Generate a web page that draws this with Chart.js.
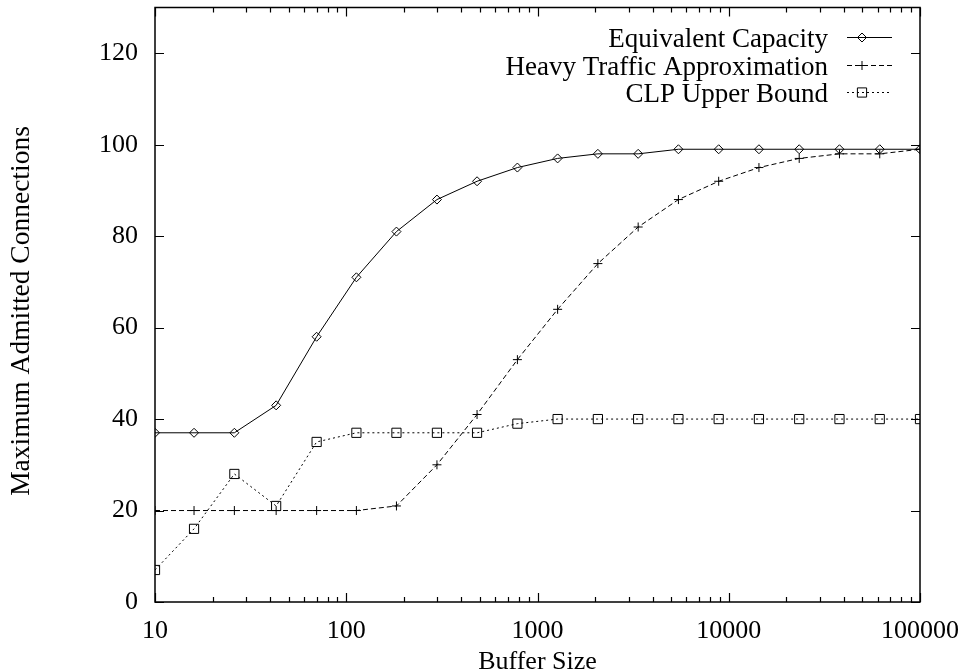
<!DOCTYPE html>
<html>
<head>
<meta charset="utf-8">
<script src="https://cdn.jsdelivr.net/npm/chart.js@4"></script>
<style>
  html, body { margin: 0; padding: 0; background: #fff; }
  #wrap { width: 963px; height: 672px; }
</style>
</head>
<body>
<div id="wrap"><canvas id="grafico" width="963" height="672"></canvas></div>
<script>
// Datos
const tamaniosBuffer = [10, 16, 26, 43, 70, 113, 183, 298, 483, 785, 1274, 2069, 3360, 5456, 8859, 14384, 23357, 37927, 61585, 100000];
const capacidadEquivalente = [37, 37, 37, 43, 58, 71, 81, 88, 92, 95, 97, 98, 98, 99, 99, 99, 99, 99, 99, 99];
const traficoPesado = [20, 20, 20, 20, 20, 20, 21, 30, 41, 53, 64, 74, 82, 88, 92, 95, 97, 98, 98, 99];
const cotaCLP = [7, 16, 28, 21, 35, 37, 37, 37, 37, 39, 40, 40, 40, 40, 40, 40, 40, 40, 40, 40];
const nombresSeries = ['Equivalent Capacity', 'Heavy Traffic Approximation', 'CLP Upper Bound'];
const ticksY = [0, 20, 40, 60, 80, 100, 120];
const ticksX = [10, 100, 1000, 10000, 100000];
const tituloX = 'Buffer Size';
const tituloY = 'Maximum Admitted Connections';

const FUENTE = '"Liberation Serif", "Times New Roman", serif';

const puntos = (ys) => tamaniosBuffer.map((x, i) => ({ x: x, y: ys[i] }));

// Marco, marcas hacia adentro, títulos y leyenda al estilo gnuplot
const marcoGnuplot = {
    id: 'marcoGnuplot',
    afterDraw(chart) {
        const { ctx, chartArea: a, scales } = chart;
        const sx = scales.x, sy = scales.y;
        ctx.save();
        ctx.strokeStyle = '#000';
        ctx.lineWidth = 1.5;
        ctx.strokeRect(a.left, a.top, a.right - a.left, a.bottom - a.top);

        ctx.lineWidth = 1.2;
        ctx.beginPath();
        ticksY.forEach(v => {
            const y = Math.round(sy.getPixelForValue(v)) + 0.5;
            ctx.moveTo(a.left, y); ctx.lineTo(a.left + 9, y);
            ctx.moveTo(a.right, y); ctx.lineTo(a.right - 9, y);
        });
        for (let d = 10; d < 100000; d *= 10) {
            for (let k = 1; k <= 10; k++) {
                const largo = (k === 1 || k === 10) ? 9 : 5;
                const x = Math.round(sx.getPixelForValue(d * k)) + 0.5;
                ctx.moveTo(x, a.bottom); ctx.lineTo(x, a.bottom - largo);
                ctx.moveTo(x, a.top); ctx.lineTo(x, a.top + largo);
            }
        }
        ctx.stroke();

        // Títulos de los ejes
        ctx.fillStyle = '#000';
        ctx.font = '26px ' + FUENTE;
        ctx.textAlign = 'center';
        ctx.textBaseline = 'alphabetic';
        ctx.fillText(tituloX, (a.left + a.right) / 2, 669);
        ctx.save();
        ctx.translate(29, 311);
        ctx.rotate(-Math.PI / 2);
        ctx.font = '27.5px ' + FUENTE;
        ctx.fillText(tituloY, 0, 0);
        ctx.restore();

        // Leyenda
        const xTexto = 828, xLinea0 = 847, xLinea1 = 892, xMarca = 862, yBase0 = 47, paso = 27.5;
        ctx.font = '27px ' + FUENTE;
        ctx.textAlign = 'right';
        chart.data.datasets.forEach((ds, i) => {
            const yBase = yBase0 + i * paso;
            const yLinea = Math.round(yBase - 10) + 0.5;
            ctx.fillStyle = '#000';
            ctx.fillText(ds.label, xTexto, yBase);
            ctx.save();
            ctx.strokeStyle = '#000';
            ctx.lineWidth = ds.borderWidth;
            ctx.setLineDash(ds.borderDash || []);
            ctx.beginPath();
            ctx.moveTo(xLinea0, yLinea); ctx.lineTo(xLinea1, yLinea);
            ctx.stroke();
            ctx.setLineDash([]);
            ctx.fillStyle = 'rgba(0,0,0,0)';
            Chart.helpers.drawPoint(ctx, {
                pointStyle: ds.pointStyle,
                radius: ds.pointRadius,
                borderWidth: 1
            }, xMarca, yLinea);
            ctx.restore();
        });
        ctx.restore();
    }
};

const serie = (label, datos, estilo, radio, guiones) => ({
    label: label,
    data: puntos(datos),
    borderColor: '#000',
    backgroundColor: 'rgba(0,0,0,0)',
    borderWidth: 1,
    borderDash: guiones,
    pointStyle: estilo,
    pointRadius: radio,
    pointBorderWidth: 1,
    pointBorderColor: '#000',
    pointBackgroundColor: 'rgba(0,0,0,0)',
    tension: 0
});

new Chart(document.getElementById('grafico'), {
    type: 'line',
    data: {
        datasets: [
            serie(nombresSeries[0], capacidadEquivalente, 'rectRot', 4.5, []),
            serie(nombresSeries[1], traficoPesado, 'cross', 4.5, [5, 3]),
            serie(nombresSeries[2], cotaCLP, 'rect', 6.5, [2, 3])
        ]
    },
    options: {
        responsive: false,
        animation: false,
        layout: { padding: { top: 3, right: 43, left: 0, bottom: 0 } },
        plugins: { legend: { display: false }, tooltip: { enabled: false } },
        scales: {
            x: {
                type: 'logarithmic',
                min: 10,
                max: 100000,
                grid: { display: false, drawTicks: false },
                border: { display: false },
                afterFit: (escala) => {
                    escala.height = 70;
                    escala.paddingLeft = 0;
                    escala.paddingRight = 0;
                },
                ticks: {
                    autoSkip: false,
                    maxRotation: 0,
                    padding: 14,
                    color: '#000',
                    font: { family: FUENTE, size: 26 },
                    callback: (v) => ticksX.includes(v) ? String(v) : ''
                }
            },
            y: {
                min: 0,
                max: 130,
                grid: { display: false, drawTicks: false },
                border: { display: false },
                afterFit: (escala) => {
                    escala.width = 155;
                    escala.paddingTop = 0;
                    escala.paddingBottom = 0;
                },
                ticks: {
                    stepSize: 20,
                    padding: 17,
                    color: '#000',
                    font: { family: FUENTE, size: 26 },
                    callback: (v) => ticksY.includes(v) ? String(v) : ''
                }
            }
        }
    },
    plugins: [marcoGnuplot]
});
</script>
</body>
</html>
